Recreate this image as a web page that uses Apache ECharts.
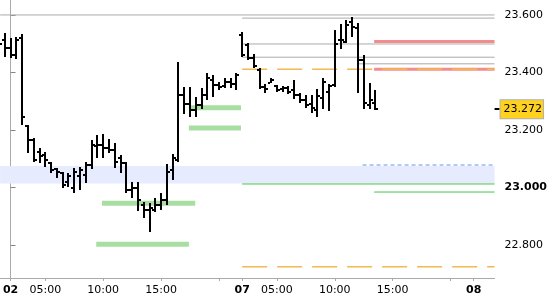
<!DOCTYPE html>
<html><head><meta charset="utf-8">
<script src="https://cdn.jsdelivr.net/npm/echarts@6/dist/echarts.min.js"></script>
<style>html,body{margin:0;padding:0;background:#fff}#c{width:550px;height:300px}</style>
</head><body><div id="c"></div>
<script>
// 30-minute bars; x in session hours from the "02" marker
var barHours = [-1,-0.5,0,0.5,1,1.5,2,2.5,3,3.5,4,4.5,5,5.5,6,6.5,7,7.5,8,8.5,9,9.5,10,10.5,11,11.5,12,12.5,13,13.5,14,14.5,15,15.5,16,16.5,17,17.5,18,18.5,19,19.5,20,20.5,21,21.5,22,22.5,23,23.5,24,24.5,25,25.5,26,26.5,27,27.5,28,28.5,29,29.5,30,30.5,31,31.5];
var barOpen = [23.485,23.513,23.485,23.461,23.520,23.214,23.165,23.123,23.113,23.085,
23.064,23.050,23.019,22.998,23.040,23.043,23.078,23.144,23.148,23.137,
23.130,23.103,23.085,22.991,22.998,22.939,22.922,22.922,22.939,22.957,
23.061,23.096,23.322,23.290,23.270,23.287,23.322,23.374,23.357,23.353,
23.367,23.360,23.530,23.496,23.450,23.409,23.350,23.363,23.353,23.343,
23.346,23.339,23.322,23.304,23.290,23.270,23.311,23.332,23.357,23.513,
23.506,23.576,23.555,23.443,23.287,23.294];
var barHigh = [23.530,23.537,23.520,23.523,23.534,23.217,23.172,23.137,23.123,23.089,
23.068,23.054,23.050,23.068,23.071,23.089,23.165,23.183,23.186,23.169,
23.155,23.113,23.089,23.019,23.019,22.950,22.946,22.963,22.981,23.082,
23.117,23.437,23.350,23.350,23.315,23.346,23.398,23.391,23.367,23.381,
23.381,23.398,23.541,23.503,23.464,23.416,23.360,23.381,23.357,23.353,
23.353,23.374,23.329,23.322,23.322,23.343,23.381,23.360,23.548,23.569,
23.583,23.593,23.572,23.461,23.363,23.339];
var barLow = [23.471,23.454,23.450,23.447,23.217,23.120,23.089,23.085,23.071,23.050,
23.033,22.998,23.002,22.981,22.991,23.016,23.064,23.103,23.103,23.120,
23.068,23.050,22.981,22.963,22.918,22.894,22.845,22.915,22.922,22.939,
23.026,23.089,23.256,23.245,23.245,23.273,23.304,23.315,23.339,23.346,
23.346,23.339,23.454,23.443,23.416,23.343,23.329,23.363,23.332,23.332,
23.325,23.308,23.294,23.277,23.259,23.245,23.273,23.266,23.350,23.482,
23.503,23.523,23.329,23.273,23.273,23.270];
var barClose = [23.499,23.485,23.461,23.513,23.245,23.165,23.096,23.110,23.096,23.061,
23.054,23.009,23.040,23.054,23.061,23.078,23.148,23.148,23.137,23.130,
23.089,23.085,22.991,22.998,22.957,22.922,22.929,22.939,22.957,23.054,
23.103,23.322,23.290,23.270,23.287,23.322,23.381,23.357,23.350,23.367,
23.360,23.391,23.461,23.450,23.423,23.350,23.343,23.374,23.339,23.346,
23.332,23.322,23.304,23.287,23.277,23.318,23.367,23.353,23.499,23.513,
23.565,23.558,23.443,23.294,23.304,23.272];
var lastPrice = 23.272;

var xMin = -0.9, xMax = 41.8;
var yMin = 22.685, yMax = 23.652;
var xTickHours = [0,3,8,13,18,20,23,28,33,38,40];
var xLabelHours = [0,3,8,13,20,23,28,33,40];
var xLabels = ['02','05:00','10:00','15:00','07','05:00','10:00','15:00','08'];
var dayLabels = ['02','07','08'];
var yTicks = [22.8,23.0,23.2,23.4,23.6];
var boldTick = 23.0;

var bandTop = 23.075, bandBottom = 23.014;
var grayLevels = [23.600,23.589,23.499,23.453,23.430];
var grayStart  = [-0.9,20,20,20,30];
var orangeLevels = [23.411,22.724];
var orangeStart  = [20,20];
var pinkLevels = [23.508,23.411];
var pinkStart  = [31.4,31.4];
var greenLevels = [23.012,22.984];
var greenStart  = [20,31.4];
var blueLevels = [23.078];
var blueStart  = [30.4];
var zoneLevels = [22.945,22.802,23.277,23.207];
var zoneStart  = [7.9,7.4,15.4,15.4];
var zoneEnd    = [15.95,15.4,19.9,19.9];

var ohlc = barHours.map(function(h,i){return [h,barOpen[i],barHigh[i],barLow[i],barClose[i]];});

function level(y,x0,x1,style,z){
  return {type:'line',data:[[x0,y],[x1,y]],symbol:'none',silent:true,lineStyle:style,z:z,animation:false};
}
var series = [];
series.push({type:'line',data:[],z:1,silent:true,markArea:{silent:true,itemStyle:{color:'#E6ECFD'},data:[[{yAxis:bandTop},{yAxis:bandBottom}]]}});
zoneLevels.forEach(function(v,i){series.push(level(v,zoneStart[i],zoneEnd[i],{color:'#A8DEA2',width:5},2));});
grayLevels.forEach(function(v,i){series.push(level(v,grayStart[i],xMax,{color:'#AAAAAA',width:1},3));});
pinkLevels.forEach(function(v,i){series.push(level(v,pinkStart[i],xMax,{color:'#F58C8C',width:3},3));});
orangeLevels.forEach(function(v,i){series.push(level(v,orangeStart[i],xMax,{color:'#F2B950',width:1.5,type:[25,10]},4));});
greenLevels.forEach(function(v,i){series.push(level(v,greenStart[i],xMax,{color:'#44C844',width:1},4));});
blueLevels.forEach(function(v,i){series.push(level(v,blueStart[i],xMax,{color:'#6A96EA',width:1,type:[4,3]},4));});
series.push({
  type:'custom', z:10, clip:true, data:ohlc, animation:false,
  encode:{x:0,y:[1,2,3,4]},
  renderItem:function(params,api){
    var x=api.value(0);
    var o=api.coord([x,api.value(1)]), h=api.coord([x,api.value(2)]),
        l=api.coord([x,api.value(3)]), c=api.coord([x,api.value(4)]);
    var px=Math.round(h[0]);
    return {type:'group',children:[
      {type:'rect',shape:{x:px-1,y:Math.round(h[1]),width:2,height:Math.max(1,Math.round(l[1])-Math.round(h[1]))},style:{fill:'#000'}},
      {type:'rect',shape:{x:px-3,y:Math.round(o[1])-1,width:2,height:2},style:{fill:'#000'}},
      {type:'rect',shape:{x:px+1,y:Math.round(c[1])-1,width:2,height:2},style:{fill:'#000'}}
    ]};
  }
});

var font = 'DejaVu Sans';
var chart = echarts.init(document.getElementById('c'));
chart.setOption({
  animation:false,
  grid:{left:0,right:51,top:0,bottom:22,containLabel:false},
  xAxis:{type:'value',min:xMin,max:xMax,
    axisLine:{lineStyle:{color:'#AAAAAA'}},
    splitLine:{show:false},
    axisTick:{customValues:xTickHours,length:3,lineStyle:{color:'#AAAAAA'}},
    axisLabel:{customValues:xLabelHours,margin:7,fontFamily:font,fontSize:11,color:'#000',
      formatter:function(v){var i=xLabelHours.indexOf(v);var t=xLabels[i];return dayLabels.indexOf(t)>=0&&(v===0||v===20||v===40)?'{b|'+t+'}':t;},
      rich:{b:{fontWeight:'bold',fontFamily:font,fontSize:11,color:'#000'}}}
  },
  yAxis:[
    {type:'value',position:'right',min:yMin,max:yMax,
      axisLine:{show:true,lineStyle:{color:'#AAAAAA'}},
      splitLine:{show:false},
      axisTick:{show:true,customValues:yTicks,length:5,lineStyle:{color:'#888888'}},
      axisLabel:{customValues:yTicks,margin:10,fontFamily:font,fontSize:11,color:'#000',
        formatter:function(v){var s=v.toFixed(3);return Math.abs(v-boldTick)<1e-9?'{b|'+s+'}':s;},
        rich:{b:{fontWeight:'bold',fontFamily:font,fontSize:11,color:'#000'}}}
    },
    {type:'value',position:'right',min:yMin,max:yMax,
      axisLine:{show:false},splitLine:{show:false},
      axisTick:{show:true,customValues:[lastPrice],length:5,lineStyle:{color:'#000',width:2}},
      axisLabel:{customValues:[lastPrice],margin:6,fontFamily:font,fontSize:11,color:'#000',
        backgroundColor:'#FFD21F',borderColor:'#B0B0B0',borderWidth:1,padding:[4,1,3,3],
        formatter:function(v){return v.toFixed(3);}}
    }
  ],
  series:series
});
</script></body></html>
